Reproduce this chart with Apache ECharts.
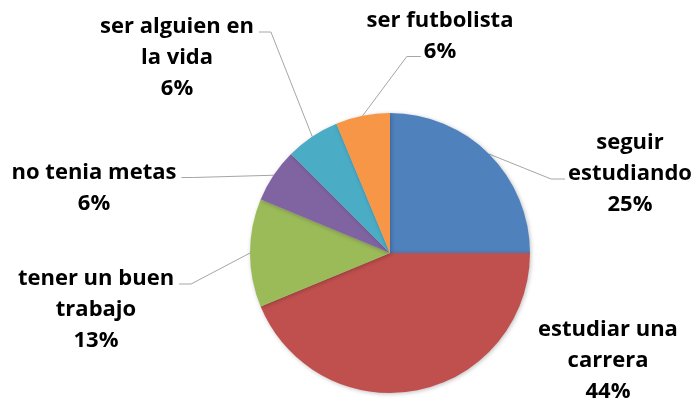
<!DOCTYPE html>
<html>
<head>
<meta charset="utf-8">
<script src="https://cdn.jsdelivr.net/npm/echarts@6/dist/echarts.min.js"></script>
<style>
  html, body { margin: 0; padding: 0; background: #fff; }
  #main { width: 694px; height: 406px; }
</style>
</head>
<body>
<div id="main"></div>
<script>
// categorias (con saltos de linea como en la grafica original)
const categories = ['seguir\nestudiando', 'estudiar una\ncarrera', 'tener un buen\ntrabajo', 'no tenia metas', 'ser alguien en\nla vida', 'ser futbolista']
// respuestas (4/16, 7/16, 2/16, 1/16 ...) -> 25%, 44%, 13%, 6%
const counts = [4, 7, 2, 1, 1, 1]
const color = ['#4F81BD', '#C0504D', '#9BBB59', '#8064A2', '#4BACC6', '#F79646']

// posicion de cada etiqueta (centro del bloque) y linea a la que llega la guia
const labelCenter = [[630, 174], [608, 361], [96, 310], [94, 188], [177, 58], [440, 36]]
const leaderAttach = [1, null, 0, 0, 0, 1]

const pieCenter = [390, 253]
const fontSize = 22
const lineH = 31
const fontFamily = '"Open Sans", "DejaVu Sans", sans-serif'

const measureCtx = document.createElement('canvas').getContext('2d')
measureCtx.font = 'bold ' + fontSize + 'px ' + fontFamily
function textWidth(s) {
  return measureCtx.measureText(s).width
}

const chart = echarts.init(document.getElementById('main'), null, { renderer: 'canvas' })

var option = {
  backgroundColor: '#fff',
  animation: false,
  series: [{
    type: 'pie',
    center: pieCenter,
    radius: 140,
    startAngle: 90,
    clockwise: true,
    percentPrecision: 0,
    avoidLabelOverlap: false,
    color: color,
    itemStyle: {
      borderWidth: 0,
      shadowBlur: 4,
      shadowColor: 'rgba(0,0,0,0.25)',
      shadowOffsetX: 1,
      shadowOffsetY: 1
    },
    label: {
      show: true,
      position: 'outside',
      formatter: '{b}\n{d}%',
      color: '#000',
      fontFamily: fontFamily,
      fontWeight: 'bold',
      fontSize: fontSize,
      lineHeight: lineH,
      align: 'center'
    },
    labelLine: {
      show: true,
      lineStyle: {
        color: '#A6A6A6',
        width: 1
      }
    },
    emphasis: { disabled: true },
    labelLayout: function (params) {
      const i = params.dataIndex
      const c = labelCenter[i]
      const out = { x: c[0], y: c[1], align: 'center', verticalAlign: 'middle' }
      const k = leaderAttach[i]
      if (k == null || !params.labelLinePoints) return out
      const lines = params.text.split('\n')
      const n = lines.length
      const start = params.labelLinePoints[0]
      const ly = c[1] + (k - (n - 1) / 2) * lineH + 5
      const w = textWidth(lines[k])
      const right = c[0] > pieCenter[0]
      const ex = right ? c[0] - w / 2 - 3 : c[0] + w / 2 + 5
      const bx = right ? ex - 14 : ex + 12
      out.labelLinePoints = [start, [bx, ly], [ex, ly]]
      return out
    },
    data: categories.map((name, i) => ({
      name: name,
      value: counts[i],
      labelLine: { show: leaderAttach[i] != null }
    }))
  }]
}
chart.setOption(option)
</script>
</body>
</html>
